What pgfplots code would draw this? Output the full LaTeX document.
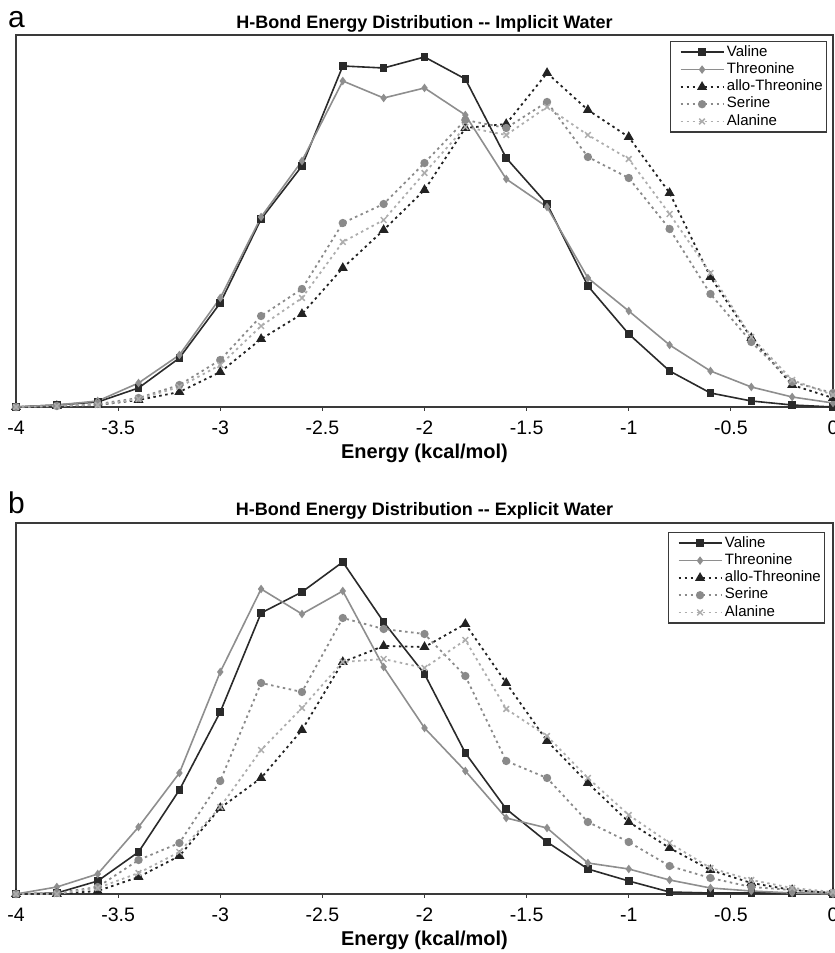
\documentclass[border=0pt]{standalone}
\usepackage{fontspec}
\setmainfont{Liberation Sans}
\usepackage{pgfplots}
\pgfplotsset{compat=1.18}
\usepackage{pgfplotstable}

\definecolor{axc}{HTML}{3A3A3A}
\definecolor{cva}{HTML}{2A2A2A}
\definecolor{cth}{HTML}{8E8E8E}
\definecolor{cal}{HTML}{222222}
\definecolor{cse}{HTML}{8A8A8A}
\definecolor{can}{HTML}{ADADAD}

\pgfplotstableread{
x va th al se an
-4.0 0 0 0 0 0
-3.8 2 2 1 1 1
-3.6 5 6 2 3 2
-3.4 19 24 7 9 8
-3.2 49 52 15 22 20
-3.0 104 109 35 47 42
-2.8 188 190 68 91 81
-2.6 241 246 93 118 109
-2.4 341 326 139 184 165
-2.2 339 309 177 203 187
-2.0 350 319 217 244 234
-1.8 328 292 279 287 280
-1.6 249 228 283 279 272
-1.4 203 200 334 305 300
-1.2 121 129 297 250 272
-1.0 73 96 270 229 248
-0.8 36 62 214 178 193
-0.6 14 36 130 113 134
-0.4 6 20 69 65 70
-0.2 2 10 22 25 27
0.0 0 4 9 14 12
}\implicit

\pgfplotstableread{
x va th al se an
-4.0 0 0 0 0 0
-3.8 1 7 0 1 0
-3.6 13 20 3 7 6
-3.4 42 67 17 34 21
-3.2 104 121 38 51 42
-3.0 182 222 86 113 87
-2.8 281 305 116 211 144
-2.6 302 280 164 202 186
-2.4 332 303 232 276 232
-2.2 272 227 248 265 235
-2.0 220 166 247 260 226
-1.8 141 123 270 218 254
-1.6 85 76 211 133 185
-1.4 52 66 153 116 158
-1.2 25 31 111 72 116
-1.0 13 25 72 52 79
-0.8 2 14 46 28 51
-0.6 1 6 24 16 26
-0.4 1 3 11 7 14
-0.2 1 1 4 4 6
0.0 0 0 1 1 2
}\explicit

\pgfplotsset{
  hb/.style={
    scale only axis, width=817pt,
    xmin=-4, xmax=0, ymin=0,
    xtick={-4,-3.5,-3,-2.5,-2,-1.5,-1,-0.5,0},
    xticklabels={-4,-3.5,-3,-2.5,-2,-1.5,-1,-0.5,0},
    ytick=\empty, xtick pos=bottom,
    tick align=outside, major tick length=4pt,
    axis line style={draw=axc, line width=1.6pt},
    every tick/.style={draw=axc, line width=1pt},
    xticklabel style={font=\fontsize{19.5}{21}\selectfont, anchor=north, inner sep=0pt, yshift=-10pt},
    xlabel={Energy (kcal/mol)},
    xlabel style={font=\bfseries\fontsize{20}{24}\selectfont, at={(axis description cs:0.5,0)}, anchor=center, yshift=-46pt},
    clip=false,
    legend cell align=left,
    legend image code/.code={\path (0pt,0pt); \draw[mark repeat=2,mark phase=2,##1] plot coordinates {(8pt,0pt) (29.5pt,0pt) (51pt,0pt)};},
    legend style={at={(1,1)}, anchor=north east, draw=axc, line width=1.3pt, fill=white,
      font=\fontsize{15}{17}\selectfont, inner xsep=1pt, inner ysep=2pt,
      nodes={inner xsep=2.5pt, inner ysep=1.4pt, text height=11pt, text depth=3.5pt}},
  },
  va/.style={color=cva, line width=1.6pt, mark=square*, mark size=3pt, mark options={solid}},
  th/.style={color=cth, line width=1.6pt, mark=diamond*, mark size=3pt, mark options={solid}},
  al/.style={color=cal, line width=1.8pt, dash pattern=on 2.5pt off 3.5pt, mark=triangle*, mark size=4pt, mark options={solid}},
  se/.style={color=cse, line width=1.8pt, dash pattern=on 2.5pt off 3.5pt, mark=*, mark size=3.2pt, mark options={solid}},
  an/.style={color=can, line width=1.8pt, dash pattern=on 2.5pt off 3.5pt, mark=x, mark size=4pt, mark options={solid, line width=1.5pt}},
}

\begin{document}
\begin{tikzpicture}
\useasboundingbox (0,0) rectangle (835pt,953pt);

\begin{axis}[hb, height=372pt, ymax=372, at={(16pt,546pt)}, anchor=south west,
  legend style={xshift=-6pt, yshift=-6pt}]
\addplot[va] table[x=x,y=va] {\implicit};
\addlegendentry{Valine}
\addplot[th] table[x=x,y=th] {\implicit};
\addlegendentry{Threonine}
\addplot[al] table[x=x,y=al] {\implicit};
\addlegendentry{allo-Threonine}
\addplot[se] table[x=x,y=se] {\implicit};
\addlegendentry{Serine}
\addplot[an] table[x=x,y=an] {\implicit};
\addlegendentry{Alanine}
\node[font=\bfseries\fontsize{18}{20}\selectfont, anchor=base, inner sep=0pt, yshift=6.5pt] at (rel axis cs:0.5,1) {H-Bond Energy Distribution -{}- Implicit Water};
\node[font=\fontsize{30}{32}\selectfont, anchor=base west, inner sep=0pt, xshift=-8pt, yshift=7pt] at (rel axis cs:0,1) {a};
\end{axis}

\begin{axis}[hb, height=371pt, ymax=371, at={(16pt,59pt)}, anchor=south west,
  legend style={xshift=-8pt, yshift=-9pt}]
\addplot[va] table[x=x,y=va] {\explicit};
\addlegendentry{Valine}
\addplot[th] table[x=x,y=th] {\explicit};
\addlegendentry{Threonine}
\addplot[al] table[x=x,y=al] {\explicit};
\addlegendentry{allo-Threonine}
\addplot[se] table[x=x,y=se] {\explicit};
\addlegendentry{Serine}
\addplot[an] table[x=x,y=an] {\explicit};
\addlegendentry{Alanine}
\node[font=\bfseries\fontsize{18}{20}\selectfont, anchor=base, inner sep=0pt, yshift=7pt] at (rel axis cs:0.5,1) {H-Bond Energy Distribution -{}- Explicit Water};
\node[font=\fontsize{30}{32}\selectfont, anchor=base west, inner sep=0pt, xshift=-8pt, yshift=9pt] at (rel axis cs:0,1) {b};
\end{axis}
\end{tikzpicture}
\end{document}
